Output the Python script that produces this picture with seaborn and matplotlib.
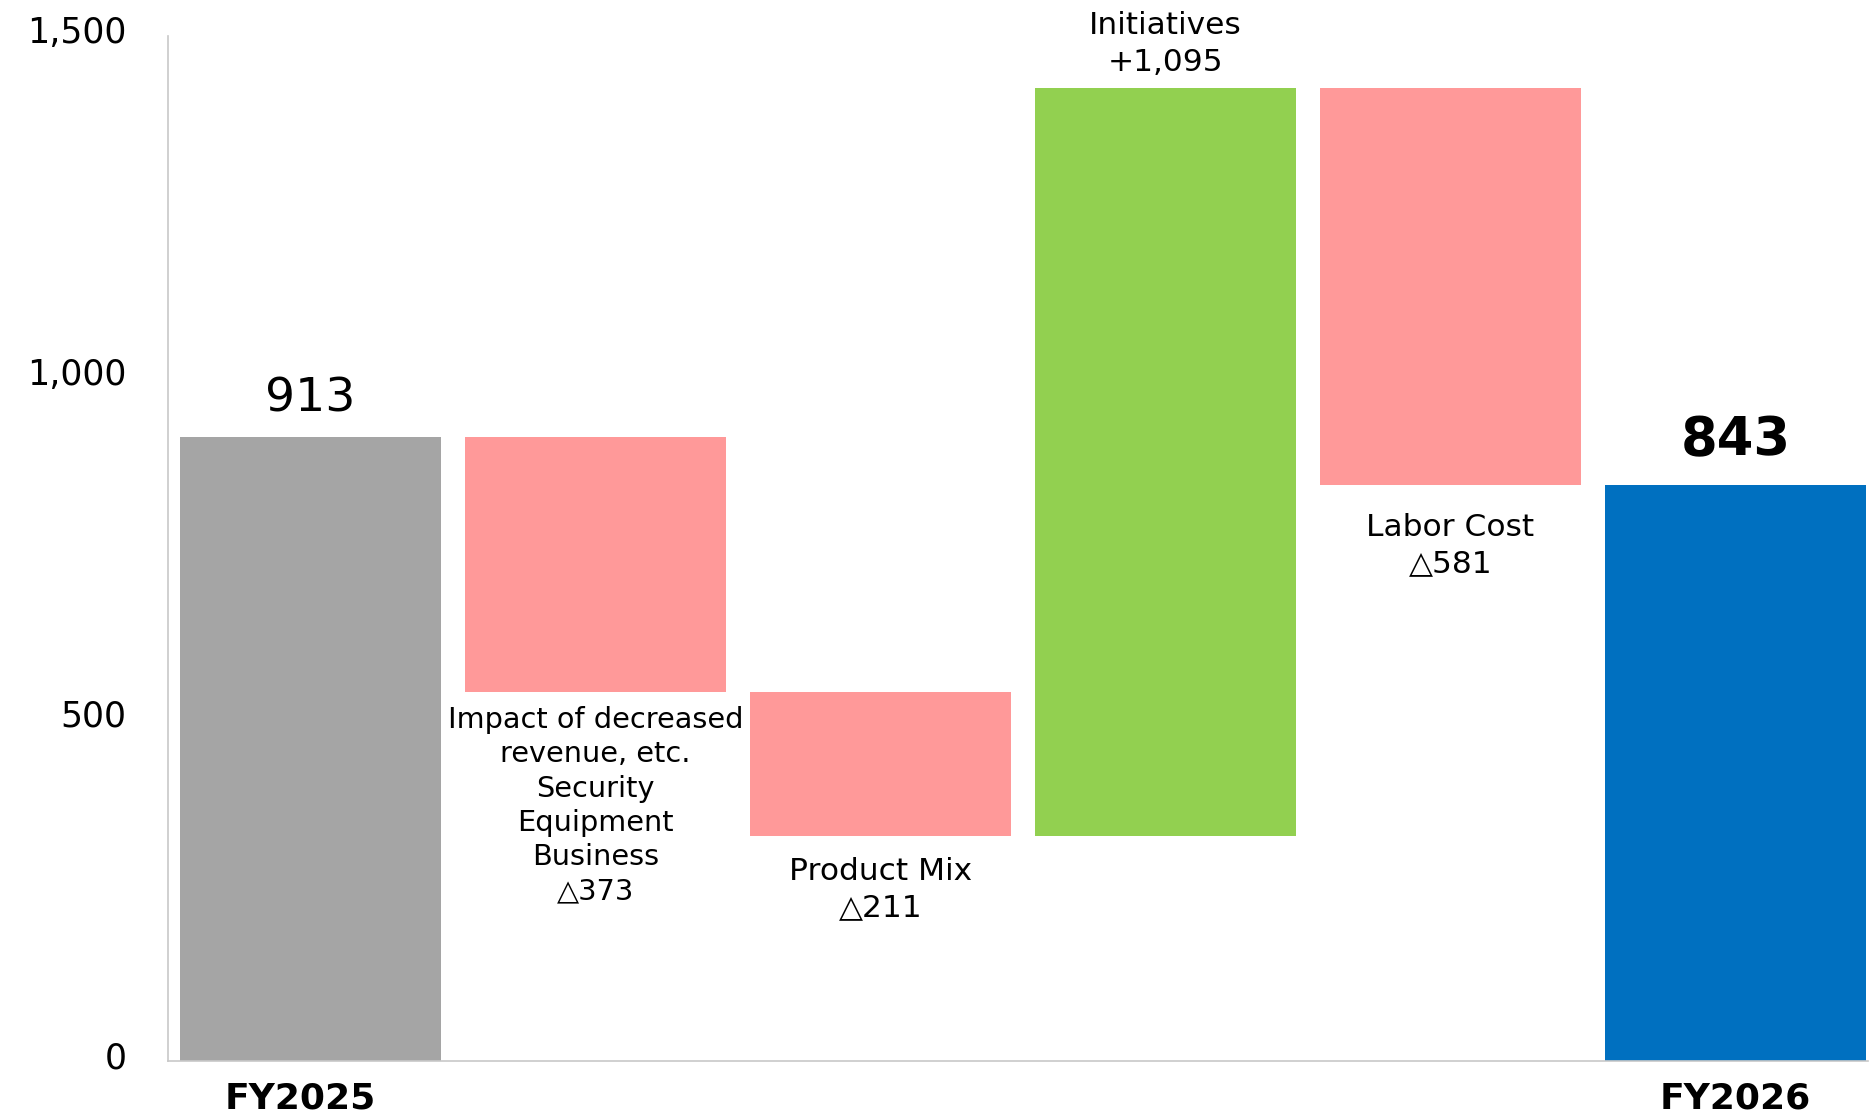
import numpy as np
import pandas as pd
import seaborn as sns
import matplotlib.pyplot as plt
import matplotlib.transforms as mtransforms

# Waterfall data
steps = ['FY2025', 'Impact', 'Product Mix', 'Initiatives', 'Labor Cost', 'FY2026']
start_value = 913
changes = [-373, -211, 1095, -581]
end_value = 843
tick_labels = ['FY2025', '', '', '', '', 'FY2026']
step_labels = ['Impact of decreased\nrevenue, etc.\nSecurity\nEquipment\nBusiness\n△373',
               'Product Mix\n△211',
               'Initiatives\n+1,095',
               'Labor Cost\n△581']
bar_colors = ['#A5A5A5', '#FF9999', '#FF9999', '#92D050', '#FF9999', '#0070C0']

# bottoms / heights for the floating bars
levels = np.concatenate([[start_value], start_value + np.cumsum(changes)])
bottoms = [0]
heights = [start_value]
for i, c in enumerate(changes):
    lo = min(levels[i], levels[i + 1])
    bottoms.append(lo)
    heights.append(abs(c))
bottoms.append(0)
heights.append(end_value)

df = pd.DataFrame({'step': steps, 'height': heights, 'bottom': bottoms})

sns.set_style('white')
plt.rcParams['font.family'] = ['DejaVu Sans']
plt.rcParams['text.color'] = 'black'

fig = plt.figure(figsize=(18.72, 11.18), dpi=100)
ax = fig.add_axes([0.0897, 0.051, 0.908, 0.917])

sns.barplot(data=df, x='step', y='height', bottom=df['bottom'].values,
            color='#A5A5A5', width=0.915, ax=ax)
for p, col in zip(ax.patches, bar_colors):
    p.set_facecolor(col)
    p.set_edgecolor('none')

ax.set_xlim(-0.5, 5.464)
ax.set_ylim(0, 1500)
ax.set_yticks([0, 500, 1000, 1500])
ax.set_yticklabels(['0', '500', '1,000', '1,500'], fontsize=25, color='black')
ax.set_xticks(range(len(steps)))
ax.set_xticklabels(tick_labels, fontsize=26, fontweight='bold', color='black')
ax.set_xlabel('')
ax.set_ylabel('')

ax.tick_params(axis='y', direction='in', length=9, color='#D0D0D0', pad=30)
ax.tick_params(axis='x', length=0, pad=15)
# y tick labels sit a little above their ticks in the reference
shift = mtransforms.ScaledTranslation(0, 6 / 100, fig.dpi_scale_trans)
for lab in ax.get_yticklabels():
    lab.set_transform(lab.get_transform() + shift)
# FY2025 label is slightly left of its bar
first = ax.get_xticklabels()[0]
first.set_transform(first.get_transform() + mtransforms.ScaledTranslation(-10 / 100, 0, fig.dpi_scale_trans))

sns.despine(ax=ax, top=True, right=True)
for s in ['left', 'bottom']:
    ax.spines[s].set_color('#C8C8C8')
    ax.spines[s].set_linewidth(1.2)

# start / end value labels
ax.annotate(f'{start_value:,}', (0, start_value), xytext=(0, 11), textcoords='offset points',
            ha='center', va='bottom', fontsize=34)
ax.annotate(f'{end_value:,}', (5, end_value), xytext=(0, 13), textcoords='offset points',
            ha='center', va='bottom', fontsize=38, fontweight='bold')

# step labels: above for increases, below for decreases
sizes = [20.7, 22.5, 22.5, 22.5]
spacings = [1.29, 1.32, 1.32, 1.32]
offsets = [-10, -15, 8, -20]
for i, (c, txt) in enumerate(zip(changes, step_labels)):
    x = i + 1
    if c > 0:
        ax.annotate(txt, (x, bottoms[x] + heights[x]), xytext=(0, offsets[i]), textcoords='offset points',
                    ha='center', va='bottom', fontsize=sizes[i], linespacing=spacings[i],
                    annotation_clip=False)
    else:
        ax.annotate(txt, (x, bottoms[x]), xytext=(0, offsets[i]), textcoords='offset points',
                    ha='center', va='top', fontsize=sizes[i], linespacing=spacings[i])

fig.savefig('out.png', dpi=100)
